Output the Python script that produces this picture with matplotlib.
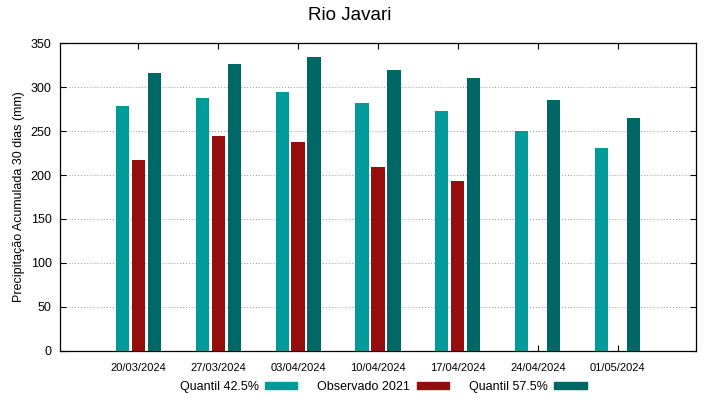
import matplotlib
matplotlib.use("Agg")
import matplotlib.pyplot as plt
import numpy as np
from matplotlib.patches import Patch

plt.rcParams['font.family'] = ['Liberation Sans', 'DejaVu Sans']

datas = ['20/03/2024', '27/03/2024', '03/04/2024', '10/04/2024',
         '17/04/2024', '24/04/2024', '01/05/2024']
q425 = [279, 288, 295, 282, 273, 250, 231]
obs2021 = [217, 245, 238, 209, 193, np.nan, np.nan]
q575 = [316, 326, 334, 320, 310, 286, 265]

cor_q425 = '#009a9a'
cor_obs = '#960d0d'
cor_q575 = '#006767'

fig = plt.figure(figsize=(7.19, 3.99), dpi=100)
ax = fig.add_axes([0.0834, 0.121, 0.8846, 0.7705])

x = np.arange(len(datas))
w = 0.165
d = 0.2
ax.bar(x - d, q425, w, color=cor_q425, zorder=3)
ax.bar(x, obs2021, w, color=cor_obs, zorder=3)
ax.bar(x + d, q575, w, color=cor_q575, zorder=3)

ax.set_xlim(-0.98, len(datas) - 1 + 0.98)
ax.set_ylim(0, 350)
ax.set_yticks(range(0, 351, 50))
ax.set_xticks(x)
ax.set_xticklabels(datas, fontsize=8)
ax.tick_params(axis='y', labelsize=9, direction='in', length=4, right=True, pad=6)
ax.tick_params(axis='x', direction='in', length=4, top=True, pad=9)
for s in ax.spines.values():
    s.set_linewidth(0.9)
ax.yaxis.grid(True, linestyle=(0, (1, 2)), color='#999999', linewidth=0.7, zorder=0)

ax.set_ylabel('Precipitação Acumulada 30 dias (mm)', fontsize=9, labelpad=4)
fig.text(0.487, 0.96, 'Rio Javari', fontsize=13.5, ha='center', va='center')

handles = [Patch(color=cor_q425), Patch(color=cor_obs), Patch(color=cor_q575)]
labels = ['Quantil 42.5%', 'Observado 2021', 'Quantil 57.5%']
fig.legend(handles, labels, loc='center', bbox_to_anchor=(0.533, 0.03), ncol=3,
           frameon=False, markerfirst=False, fontsize=9, handlelength=2.6,
           handleheight=0.45, handletextpad=0.5, columnspacing=1.6)

fig.savefig('out.png', dpi=100)
